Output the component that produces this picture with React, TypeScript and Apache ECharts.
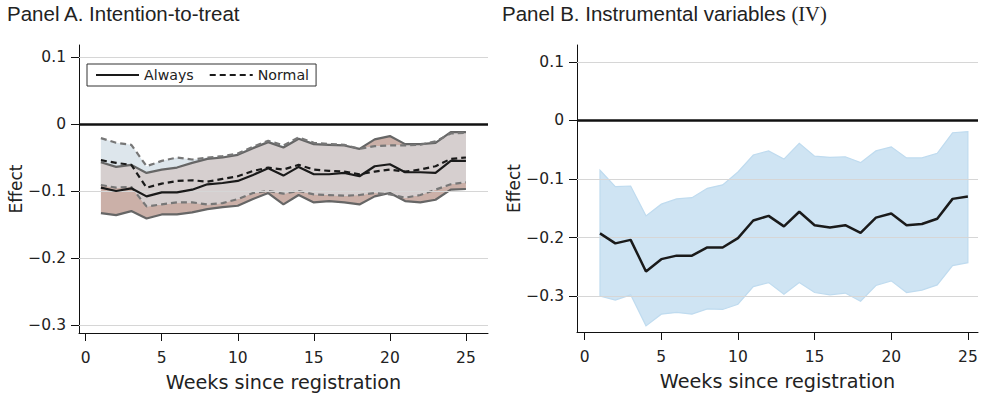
import React, { useEffect, useRef } from "react";
import * as echarts from "echarts";

const weeks = [1, 2, 3, 4, 5, 6, 7, 8, 9, 10, 11, 12, 13, 14, 15, 16, 17, 18, 19, 20, 21, 22, 23, 24, 25];

// Panel A: intention-to-treat
const alwaysEst = [-0.095, -0.1, -0.096, -0.108, -0.102, -0.102, -0.098, -0.09, -0.088, -0.085, -0.076, -0.066, -0.077, -0.064, -0.075, -0.075, -0.073, -0.078, -0.063, -0.06, -0.072, -0.072, -0.073, -0.055, -0.055];
const alwaysUpper = [-0.057, -0.064, -0.061, -0.073, -0.068, -0.065, -0.058, -0.052, -0.05, -0.046, -0.036, -0.027, -0.035, -0.022, -0.03, -0.031, -0.032, -0.037, -0.023, -0.018, -0.03, -0.03, -0.028, -0.012, -0.012];
const alwaysLower = [-0.133, -0.136, -0.13, -0.141, -0.135, -0.135, -0.132, -0.127, -0.124, -0.122, -0.112, -0.103, -0.12, -0.106, -0.117, -0.115, -0.117, -0.12, -0.108, -0.103, -0.115, -0.117, -0.113, -0.098, -0.097];
const normalEst = [-0.054, -0.058, -0.061, -0.095, -0.089, -0.085, -0.084, -0.086, -0.082, -0.078, -0.07, -0.065, -0.068, -0.061, -0.068, -0.07, -0.071, -0.075, -0.071, -0.068, -0.071, -0.068, -0.063, -0.052, -0.05];
const normalUpper = [-0.021, -0.028, -0.031, -0.063, -0.055, -0.05, -0.053, -0.05, -0.048, -0.044, -0.034, -0.025, -0.032, -0.02, -0.028, -0.03, -0.031, -0.037, -0.033, -0.032, -0.032, -0.031, -0.026, -0.014, -0.013];
const normalLower = [-0.091, -0.095, -0.094, -0.123, -0.12, -0.117, -0.117, -0.12, -0.118, -0.112, -0.103, -0.1, -0.104, -0.1, -0.105, -0.106, -0.107, -0.106, -0.103, -0.105, -0.11, -0.106, -0.098, -0.09, -0.087];

// Panel B: instrumental variables
const ivEst = [-0.193, -0.21, -0.204, -0.258, -0.237, -0.231, -0.231, -0.217, -0.217, -0.201, -0.171, -0.163, -0.181, -0.156, -0.179, -0.183, -0.179, -0.192, -0.166, -0.159, -0.179, -0.177, -0.168, -0.134, -0.13];
const ivUpper = [-0.085, -0.113, -0.112, -0.163, -0.143, -0.134, -0.132, -0.116, -0.11, -0.088, -0.059, -0.052, -0.066, -0.039, -0.061, -0.063, -0.062, -0.072, -0.052, -0.045, -0.064, -0.064, -0.056, -0.021, -0.019];
const ivLower = [-0.3, -0.307, -0.298, -0.351, -0.331, -0.328, -0.331, -0.322, -0.323, -0.314, -0.284, -0.277, -0.297, -0.277, -0.294, -0.298, -0.295, -0.309, -0.282, -0.274, -0.294, -0.29, -0.281, -0.248, -0.243];

const xTicks = [0, 5, 10, 15, 20, 25];
const yTicks = [0.1, 0, -0.1, -0.2, -0.3];
const gridValues = [0.1, -0.1, -0.2, -0.3];

const titleA = "Panel A. Intention-to-treat";
const titleB = "Panel B. Instrumental variables {s|(IV)}";
const yName = "Effect";
const xName = "Weeks since registration";

const FONT = "DejaVu Sans";
const TXT = "#222";

const pairs = (ys: number[]) => weeks.map((w, i) => [w, ys[i]]);
const rows = (lo: number[], hi: number[]) => weeks.map((w, i) => [w, lo[i], hi[i]]);

// overlap of the two panel A intervals
const overlapLower = weeks.map((_, i) => Math.max(alwaysLower[i], normalLower[i]));
const overlapUpper = weeks.map((_, i) => Math.min(alwaysUpper[i], normalUpper[i]));

const fmtY = (v: number) => {
  if (Math.abs(v) < 1e-9) return "0";
  return (v < 0 ? "\u2212" : "") + Math.abs(v).toFixed(1);
};

function xAxisCfg(idx: number, min: number, max: number) {
  return {
    type: "value",
    gridIndex: idx,
    min,
    max,
    name: xName,
    nameLocation: "middle",
    nameGap: 40,
    nameTextStyle: { fontFamily: FONT, fontSize: 19.2, color: TXT },
    axisLine: { show: true, onZero: false, lineStyle: { color: "#111", width: 1 } },
    axisTick: { show: true, length: 8, customValues: xTicks, lineStyle: { color: "#111" } },
    axisLabel: { customValues: xTicks, margin: 17, fontFamily: FONT, fontSize: 15.5, color: TXT },
    splitLine: { show: false },
  };
}

function yAxisCfg(idx: number, min: number, max: number, gap: number) {
  return {
    type: "value",
    gridIndex: idx,
    min,
    max,
    name: yName,
    nameLocation: "middle",
    nameGap: gap,
    nameRotate: 90,
    nameTextStyle: { fontFamily: FONT, fontSize: 17, color: TXT },
    axisLine: { show: true, onZero: false, lineStyle: { color: "#111", width: 1 } },
    axisTick: { show: true, length: 8, customValues: yTicks, lineStyle: { color: "#111" } },
    axisLabel: { customValues: yTicks, margin: 13, fontFamily: FONT, fontSize: 15.5, color: TXT, formatter: fmtY },
    splitLine: { show: false },
  };
}

function refSeries(idx: number, values: number[], color: string, width: number, z: number) {
  return {
    type: "line",
    xAxisIndex: idx,
    yAxisIndex: idx,
    data: [[weeks[0], 0]],
    symbol: "none",
    lineStyle: { opacity: 0 },
    silent: true,
    z,
    markLine: {
      silent: true,
      symbol: ["none", "none"],
      label: { show: false },
      lineStyle: { color, width, type: "solid" },
      data: values.map((v) => ({ yAxis: v })),
    },
  };
}

function band(idx: number, lo: number[], hi: number[], fill: string, stroke: string | null, z: number) {
  const data = rows(lo, hi);
  return {
    type: "custom",
    xAxisIndex: idx,
    yAxisIndex: idx,
    silent: true,
    z,
    data,
    encode: { x: 0, y: [1, 2] },
    renderItem: (params: any, api: any) => {
      if (params.dataIndex !== 0) return null;
      const top = data.map((d) => api.coord([d[0], d[2]]));
      const bot = data.map((d) => api.coord([d[0], d[1]])).reverse();
      return {
        type: "polygon",
        shape: { points: top.concat(bot) },
        style: { fill, stroke: stroke || "none", lineWidth: stroke ? 1.2 : 0 },
      };
    },
  };
}

function line(idx: number, name: string, ys: number[], color: string, width: number, type: any, z: number) {
  return {
    type: "line",
    xAxisIndex: idx,
    yAxisIndex: idx,
    name,
    data: pairs(ys),
    symbol: "none",
    showSymbol: false,
    silent: true,
    lineStyle: { color, width, type },
    itemStyle: { color },
    z,
  };
}

export default function App() {
  const ref = useRef<HTMLDivElement>(null);
  useEffect(() => {
    if (!ref.current) return;
    const chart = echarts.init(ref.current, undefined, { renderer: "svg" });
    const dash = [6, 4];
    chart.setOption({
      animation: false,
      backgroundColor: "#fff",
      title: [
        {
          text: titleA,
          left: 7,
          top: 3,
          padding: 0,
          textStyle: { fontFamily: "Liberation Sans", fontSize: 20.5, fontWeight: "normal", color: TXT },
        },
        {
          text: titleB,
          left: 502,
          top: 3,
          padding: 0,
          textStyle: {
            fontFamily: "Liberation Sans",
            fontSize: 20.5,
            fontWeight: "normal",
            color: TXT,
            rich: { s: { fontFamily: "Liberation Serif", fontSize: 20.5, color: TXT } },
          },
        },
      ],
      legend: {
        data: ["Always", "Normal"],
        left: 87,
        top: 64,
        padding: [4, 7, 4, 8],
        itemWidth: 43,
        itemHeight: 14,
        itemGap: 15,
        borderColor: "#333",
        borderWidth: 1,
        borderRadius: 0,
        itemStyle: { opacity: 0 },
        textStyle: { fontFamily: FONT, fontSize: 14.2, color: TXT },
      },
      grid: [
        { left: 79, top: 45, width: 409, height: 288, containLabel: false },
        { left: 577, top: 45, width: 401, height: 287, containLabel: false },
      ],
      xAxis: [xAxisCfg(0, -0.44, 26.45), xAxisCfg(1, -0.5, 25.66)],
      yAxis: [yAxisCfg(0, -0.312, 0.118, 54), yAxisCfg(1, -0.3615, 0.129, 54)],
      series: [
        refSeries(0, gridValues, "#d6d6d6", 1, 0),
        refSeries(1, gridValues, "#d6d6d6", 1, 0),
        band(0, alwaysLower, alwaysUpper, "#cbb0a8", null, 2),
        band(0, normalLower, normalUpper, "#dde6ec", null, 3),
        band(0, overlapLower, overlapUpper, "#d6cfcf", null, 3),
        line(0, "aUp", alwaysUpper, "#666", 2.2, "solid", 4),
        line(0, "aLo", alwaysLower, "#666", 2.2, "solid", 4),
        line(0, "nUp", normalUpper, "#777", 2.2, dash, 4),
        line(0, "nLo", normalLower, "#777", 2.2, dash, 4),
        line(0, "Normal", normalEst, "#1a1a1a", 2.2, dash, 6),
        line(0, "Always", alwaysEst, "#1a1a1a", 2.2, "solid", 6),
        refSeries(0, [0], "#111", 2.5, 9),
        band(1, ivLower, ivUpper, "#cfe4f3", "#bfdbef", 2),
        line(1, "IV", ivEst, "#1a1a1a", 2.5, "solid", 6),
        refSeries(1, [0], "#111", 2.5, 9),
      ],
    });
    return () => chart.dispose();
  }, []);
  return (
    <div
      ref={ref}
      style={{ position: "fixed", left: 0, top: 0, width: 981, height: 398, background: "#fff" }}
    />
  );
}
